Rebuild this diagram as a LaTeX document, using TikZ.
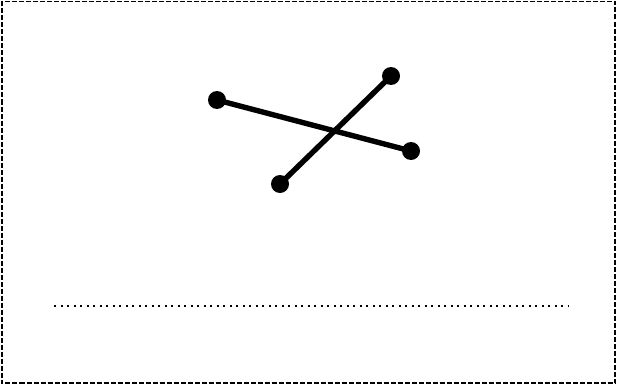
\documentclass[tikz,border=0pt]{standalone}
\begin{document}
\begin{tikzpicture}[x=1pt,y=-1pt,
  seg/.style={line width=5.4pt,black},
  endpt/.style={circle,fill=black,inner sep=0pt,minimum size=18pt},
  frame/.style={line width=1.5pt,dash pattern=on 5pt off 2pt},
  dotline/.style={line width=2.6pt,dash pattern=on 2.2pt off 4.3pt}]
\useasboundingbox (0,0) rectangle (617,385);
\draw[frame] (2,1.5) rectangle (615,383);
\node[endpt] (a) at (217,100) {};
\node[endpt] (b) at (411,151) {};
\node[endpt] (c) at (280,184) {};
\node[endpt] (d) at (391,76) {};
\draw[seg] (a.center) -- (b.center);
\draw[seg] (c.center) -- (d.center);
\coordinate (l) at (54,306);
\coordinate (r) at (569,306);
\draw[dotline] (l) -- (r);
\end{tikzpicture}
\end{document}
